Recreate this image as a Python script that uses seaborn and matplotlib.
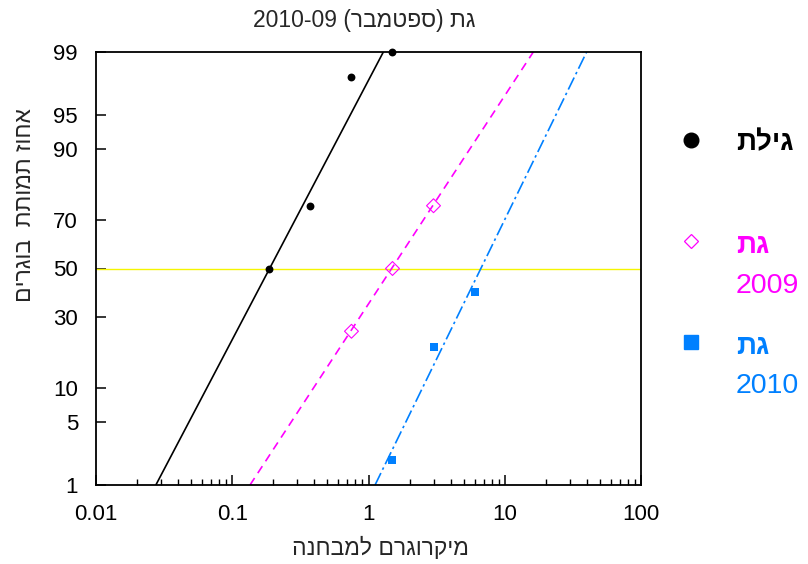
from statistics import NormalDist

import matplotlib
matplotlib.use("Agg")
import matplotlib.pyplot as plt
import numpy as np
import pandas as pd
import seaborn as sns

# Adult mortality (%) against dose (micrograms per test)
gilat_dose = [0.1875, 0.375, 0.75, 1.5]
gilat_mort = [50, 75, 98, 99]
gat2009_dose = [0.75, 1.5, 3.0]
gat2009_mort = [25, 50, 75]
gat2010_dose = [1.5, 3.0, 6.0]
gat2010_mort = [2, 20, 40]

# Probit regression lines, given by their doses at 1% and 99% mortality
fit_mort = [1, 99]
gilat_fit_dose = [0.0275, 1.285]
gat2009_fit_dose = [0.135, 16.2]
gat2010_fit_dose = [1.117, 39.9]

y_ticks = [1, 5, 10, 30, 50, 70, 90, 95, 99]
x_ticks = [0.01, 0.1, 1, 10, 100]
x_tick_labels = ["0.01", "0.1", "1", "10", "100"]

BLACK = "#000000"
MAGENTA = "#FF00FF"
BLUE = "#0080FF"
YELLOW = "#F5F500"

_MIRROR = str.maketrans("()", ")(")


def rtl(text):
    """Hebrew text in visual (left-to-right drawing) order."""
    return text[::-1].translate(_MIRROR)


def probit(percent):
    return np.array([NormalDist().inv_cdf(p / 100.0) for p in np.atleast_1d(percent)])


sns.set_style("white")
plt.rcParams["font.family"] = ["Liberation Sans", "DejaVu Sans"]

fig = plt.figure(figsize=(8.08, 5.64), dpi=100)
W, H = 808, 564
ax = fig.add_axes([96 / W, 1 - 485 / H, (641 - 96) / W, (485 - 52) / H])

# mortality 50% reference line
ax.axhline(probit(50)[0], color=YELLOW, lw=1.0, zorder=1)

fits = pd.DataFrame({
    "dose": gilat_fit_dose + gat2009_fit_dose + gat2010_fit_dose,
    "z": np.concatenate([probit(fit_mort)] * 3),
    "line": ["gilat"] * 2 + ["gat2009"] * 2 + ["gat2010"] * 2,
})
line_styles = {
    "gilat": dict(color=BLACK, linestyle="-"),
    "gat2009": dict(color=MAGENTA, linestyle=(0, (5, 3.5))),
    "gat2010": dict(color=BLUE, linestyle=(0, (8, 2.2, 1.5, 2.2))),
}
for name, sub in fits.groupby("line"):
    sns.lineplot(data=sub, x="dose", y="z", ax=ax, lw=1.2, zorder=2,
                 sort=True, estimator=None, **line_styles[name])

sns.scatterplot(x=gilat_dose, y=probit(gilat_mort), ax=ax, marker="o",
                s=32, color=BLACK, edgecolor=BLACK, linewidth=0, zorder=4,
                clip_on=False)
sns.scatterplot(x=gat2009_dose, y=probit(gat2009_mort), ax=ax, marker="D",
                s=50, facecolor="none", edgecolor=MAGENTA, linewidth=0.8,
                zorder=4, clip_on=False)
sns.scatterplot(x=gat2010_dose, y=probit(gat2010_mort), ax=ax, marker="s",
                s=30, color=BLUE, edgecolor=BLUE, linewidth=0, zorder=4,
                clip_on=False)

ax.set_xscale("log")
ax.set_xlim(0.01, 100)
ax.set_ylim(probit(1)[0], probit(99)[0])
ax.set_xticks(x_ticks)
ax.set_xticklabels(x_tick_labels)
ax.set_yticks(probit(y_ticks))
ax.set_yticklabels([str(t) for t in y_ticks])
ax.set_xlabel("")
ax.set_ylabel("")

ax.tick_params(axis="both", which="both", direction="in", colors=BLACK,
               labelsize=16, bottom=True, left=True, top=False, right=False)
ax.tick_params(axis="x", which="major", length=7, width=1.1, pad=14)
ax.tick_params(axis="x", which="minor", length=4.5, width=1.0)
ax.tick_params(axis="y", which="major", length=7, width=1.1, pad=13)
for sp in ax.spines.values():
    sp.set_color(BLACK)
    sp.set_linewidth(1.3)

fig.text(364 / W, 1 - 20 / H, "2010-09 " + rtl("גת (ספטמבר)"),
         ha="center", va="center", fontsize=16.5)
fig.text(380 / W, 1 - 548 / H, rtl("מיקרוגרם למבחנה"),
         ha="center", va="center", fontsize=16.5)
fig.text(25 / W, 1 - 205 / H, rtl("אחוז תמותת  בוגרים"),
         ha="center", va="center", fontsize=16.5, rotation=90)

# legend column at the right of the plot
leg = fig.add_axes([0, 0, 1, 1], zorder=-1)
leg.set_xlim(0, W)
leg.set_ylim(H, 0)
leg.axis("off")
leg.plot([691], [140], marker="o", ms=10.5, color=BLACK, ls="none")
leg.plot([691], [241], marker="D", ms=7, mfc="none", mec=MAGENTA, mew=0.9, ls="none")
leg.plot([691], [342], marker="s", ms=10, color=BLUE, ls="none")
leg.text(736, 143, rtl("גילת"), fontsize=20, fontweight="bold", color=BLACK,
         ha="left", va="center")
leg.text(736, 246, rtl("גת"), fontsize=20, fontweight="bold", color=MAGENTA,
         ha="left", va="center")
leg.text(736, 286, "2009", fontsize=20.5, color=MAGENTA, ha="left", va="center")
leg.text(736, 347, rtl("גת"), fontsize=20, fontweight="bold", color=BLUE,
         ha="left", va="center")
leg.text(736, 386, "2010", fontsize=20.5, color=BLUE, ha="left", va="center")

fig.savefig("out.png", dpi=100)
